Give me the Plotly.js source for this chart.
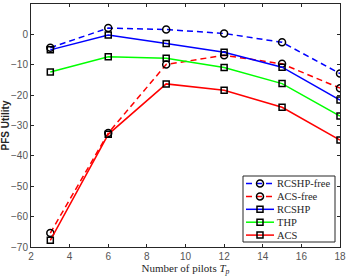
<!DOCTYPE html>
<html><head><meta charset="utf-8">
<script src="https://cdn.plot.ly/plotly-3.0.1.min.js"></script>
<style>body{margin:0;padding:0;}#plot{width:346px;height:277px;}</style>
</head><body><div id="plot"></div>
<script>
var pilots = [3, 6, 9, 12, 15, 18];
var rcshpFree = [-4.4, 2.1, 1.6, 0.3, -2.6, -12.9];
var acsFree = [-65.4, -32.5, -9.9, -6.9, -9.7, -17.7];
var rcshp = [-5.1, -0.2, -3.0, -5.9, -10.8, -21.6];
var thp = [-12.4, -7.4, -7.9, -10.9, -16.2, -26.9];
var acs = [-67.8, -32.9, -16.3, -18.4, -24.0, -34.8];
var names = ['RCSHP-free', 'ACS-free', 'RCSHP', 'THP', 'ACS'];

var colors = ['#0000ff', '#ff0000', '#0000ff', '#00ff00', '#ff0000'];
var dashes = ['6px,4px', '6px,4px', 'solid', 'solid', 'solid'];
var syms = ['circle-open', 'circle-open', 'square-open', 'square-open', 'square-open'];
var series = [rcshpFree, acsFree, rcshp, thp, acs];

var data = series.map(function (y, i) {
  return {x: pilots, y: y, name: names[i], type: 'scatter', mode: 'lines+markers', showlegend: false,
    line: {color: colors[i], width: 1.5, dash: dashes[i]},
    marker: {symbol: syms[i], size: syms[i] === 'circle-open' ? 7 : 6, color: 'black', line: {color: 'black', width: 1.5}}};
});

// custom compact legend (MATLAB-like)
var L = 31, R = 340, T = 4, B = 247;
function px(p) { return (p - L) / (R - L); }
function py(p) { return (B - p) / (B - T); }
var shapes = [], annotations = [];
shapes.push({type: 'rect', xref: 'paper', yref: 'paper', x0: px(243), x1: px(335), y0: py(176), y1: py(242),
  line: {color: '#262626', width: 1}, fillcolor: 'white', layer: 'above'});
names.forEach(function (n, i) {
  var yc = py(183.5 + i * 12.9);
  shapes.push({type: 'line', xref: 'paper', yref: 'paper', x0: px(246), x1: px(274), y0: yc, y1: yc,
    line: {color: colors[i], width: 1.5, dash: dashes[i]}, layer: 'above'});
  var half = syms[i] === 'circle-open' ? 3.5 : 3;
  shapes.push({type: syms[i] === 'circle-open' ? 'circle' : 'rect', xref: 'paper', yref: 'paper',
    xsizemode: 'pixel', ysizemode: 'pixel', xanchor: px(260), yanchor: yc,
    x0: -half, x1: half, y0: -half, y1: half, line: {color: 'black', width: 1.5}, layer: 'above'});
  annotations.push({xref: 'paper', yref: 'paper', x: px(275), y: yc, xanchor: 'left', yanchor: 'middle',
    text: n, showarrow: false, font: {family: 'Liberation Serif, Times New Roman', size: 10.5, color: '#262626'}});
});

var axisCommon = {showgrid: false, zeroline: false, showline: true, linecolor: '#262626', linewidth: 1,
  mirror: 'allticks', ticks: 'inside', ticklen: 3, tickcolor: '#262626',
  tickfont: {family: 'Liberation Sans, Arial', size: 10, color: '#555555'}};
var layout = {
  width: 346, height: 277,
  margin: {l: 31, r: 6, t: 4, b: 30},
  paper_bgcolor: 'white', plot_bgcolor: 'white',
  xaxis: Object.assign({}, axisCommon, {range: [2, 18], dtick: 2, tick0: 2,
    title: {text: 'Number of pilots <i>T</i><sub><i>p</i></sub>', font: {family: 'Liberation Serif, Times New Roman', size: 11, color: '#262626'}, standoff: 2}}),
  yaxis: Object.assign({}, axisCommon, {range: [-70, 10], dtick: 10,
    title: {text: '<b>PFS Utility</b>', font: {family: 'Liberation Sans, Arial', size: 10, color: '#262626'}, standoff: 4}}),
  shapes: shapes, annotations: annotations,
  showlegend: false
};
Plotly.newPlot('plot', data, layout, {staticPlot: true, displayModeBar: false});
</script></body></html>
